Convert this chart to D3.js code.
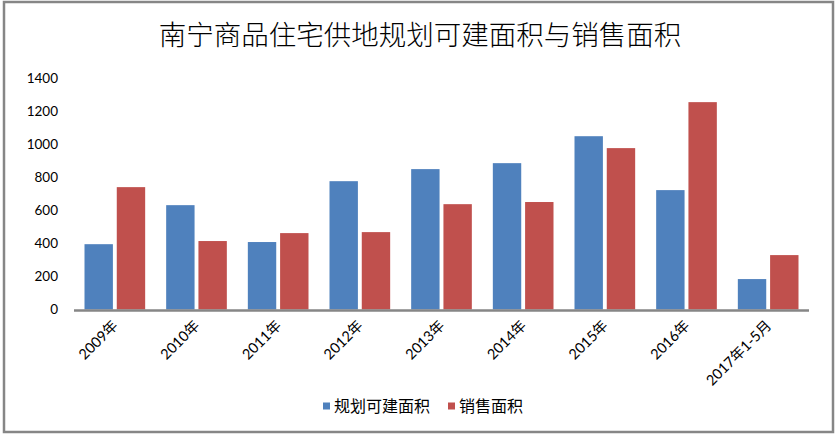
<!DOCTYPE html>
<html>
<head>
<meta charset="utf-8">
<script src="https://cdn.jsdelivr.net/npm/d3@7"></script>
<style>
  body { margin: 0; background: #fff; }
  svg text { font-family: Lato, "Noto Sans CJK SC", sans-serif; fill: #000; }
</style>
</head>
<body>
<div id="chart"></div>
<script>
// Data
const categories = ["2009年", "2010年", "2011年", "2012年", "2013年", "2014年", "2015年", "2016年", "2017年1-5月"]
const series_names = ["规划可建面积", "销售面积"]
const planned_area = [395, 631, 408, 776, 849, 885, 1048, 722, 184]
const sold_area = [740, 414, 462, 468, 637, 650, 976, 1254, 329]
const y_ticks = [0, 200, 400, 600, 800, 1000, 1200, 1400]

const COLORS = ["#4F81BD", "#C0504D"]
const AXIS_COLOR = "#868686"

const W = 838, H = 437
const margin = {top: 78, right: 29, bottom: 127.5, left: 74}
const width = W - margin.left - margin.right
const height = H - margin.top - margin.bottom

const svg = d3.select("#chart")
    .append("svg")
        .attr("width", W)
        .attr("height", H)

// outer border
svg.append("rect")
    .attr("x", 4)
    .attr("y", 2)
    .attr("width", 829)
    .attr("height", 430)
    .attr("fill", "white")
    .attr("stroke", AXIS_COLOR)
    .attr("stroke-width", 2.5)

// title
svg.append("text")
    .attr("x", 420)
    .attr("y", 45)
    .attr("text-anchor", "middle")
    .style("font-size", "27.5px")
    .style("font-weight", 300)
    .text("南宁商品住宅供地规划可建面积与销售面积")

const g = svg.append("g")
    .attr("transform", "translate(" + margin.left + "," + margin.top + ")")

const x = d3.scaleBand()
    .domain(categories)
    .range([0, width])

const x_inner = d3.scaleBand()
    .domain([0, 1])
    .range([10.5, x.bandwidth() - 10.5])
    .paddingInner(0.12)

const y = d3.scaleLinear()
    .domain([0, 1400])
    .range([height, 0])

// y tick labels (no axis line)
g.append("g")
    .selectAll("text")
    .data(y_ticks)
    .enter()
    .append("text")
        .attr("x", -16)
        .attr("y", d => y(d))
        .attr("dy", "0.35em")
        .attr("text-anchor", "end")
        .style("font-size", "13.5px")
        .text(d => d)

// bars
const rows = categories.map((c, i) => ({cat: c, values: [planned_area[i], sold_area[i]]}))

const groups = g.append("g")
    .selectAll("g")
    .data(rows)
    .enter()
    .append("g")
        .attr("transform", d => "translate(" + x(d.cat) + ",0)")

groups.selectAll("rect")
    .data(d => d.values)
    .enter()
    .append("rect")
        .attr("x", (d, i) => x_inner(i))
        .attr("width", x_inner.bandwidth())
        .attr("y", d => y(d))
        .attr("height", d => y(0) - y(d))
        .attr("fill", (d, i) => COLORS[i])

// x axis line
g.append("line")
    .attr("x1", 0)
    .attr("x2", width)
    .attr("y1", y(0) + 1)
    .attr("y2", y(0) + 1)
    .attr("stroke", AXIS_COLOR)
    .attr("stroke-width", 2.5)

// rotated category labels
g.append("g")
    .selectAll("text")
    .data(categories)
    .enter()
    .append("text")
        .attr("text-anchor", "end")
        .attr("transform", d => "translate(" + (x(d) + x.bandwidth() / 2 + 4) + "," + (height + 17) + ") rotate(-45)")
        .style("font-size", "14.5px")
        .text(d => d)

// legend
const legend = svg.append("g")
    .attr("transform", "translate(323,406)")

const legend_items = legend.selectAll("g")
    .data(series_names)
    .enter()
    .append("g")
        .attr("transform", (d, i) => "translate(" + (i * 125) + ",0)")

legend_items.append("rect")
    .attr("x", 0)
    .attr("y", -3.5)
    .attr("width", 7)
    .attr("height", 7)
    .attr("fill", (d, i) => COLORS[i])

legend_items.append("text")
    .attr("x", 11)
    .attr("y", 0)
    .attr("dy", "0.36em")
    .style("font-size", "16px")
    .text(d => d)
</script>
</body>
</html>
